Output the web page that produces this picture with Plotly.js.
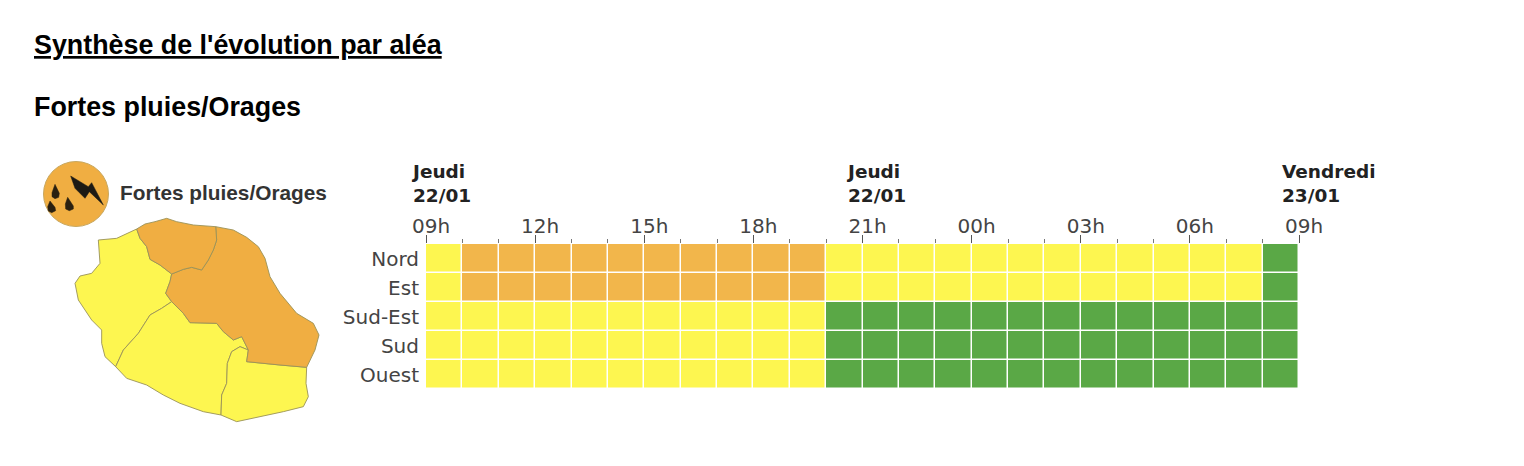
<!DOCTYPE html>
<html><head><meta charset="utf-8">
<script src="https://cdn.plot.ly/plotly-3.0.1.min.js"></script>
<style>html,body{margin:0;padding:0;background:#fff}</style></head>
<body><div id="chart" style="width:1524px;height:466px"></div>
<script>
// Heat-strip data
const zones = ["Nord","Est","Sud-Est","Sud","Ouest"];
const hourEdges = [9,10,11,12,13,14,15,16,17,18,19,20,21,22,23,24,25,26,27,28,29,30,31,32,33];
const tickHours = [9,12,15,18,21,24,27,30,33];
const tickLabels = ["09h","12h","15h","18h","21h","00h","03h","06h","09h"];
const dayHours = [9,21,33];
const dayLabels = ["Jeudi<br>22/01","Jeudi<br>22/01","Vendredi<br>23/01"];
// 0 = vert, 1 = jaune, 2 = orange
const nord   = [1,2,2,2,2,2,2,2,2,2,2,1,1,1,1,1,1,1,1,1,1,1,1,0];
const est    = [1,2,2,2,2,2,2,2,2,2,2,1,1,1,1,1,1,1,1,1,1,1,1,0];
const sudEst = [1,1,1,1,1,1,1,1,1,1,1,0,0,0,0,0,0,0,0,0,0,0,0,0];
const sud    = [1,1,1,1,1,1,1,1,1,1,1,0,0,0,0,0,0,0,0,0,0,0,0,0];
const ouest  = [1,1,1,1,1,1,1,1,1,1,1,0,0,0,0,0,0,0,0,0,0,0,0,0];

// Map outlines, in the map panel's own units
const mapNordX=[350,375,405,440,470,520,587,590,580,565,545,515,490,455,420,390,380,360,350];
const mapNordY=[237,222,215,205,215,225,230,270,300,330,360,352,358,372,345,328,290,265,237];
const mapEstX=[587,640,680,715,735,750,780,830,880,897,885,860,780,680,685,665,640,610,590,510,490,455,437,450,455,490,515,545,565,580,590,587];
const mapEstY=[230,240,262,290,325,380,430,490,520,555,600,652,645,635,600,560,570,545,520,518,490,455,430,395,372,358,352,360,330,300,270,230];
const mapOuestX=[350,360,380,390,420,455,450,437,455,425,390,355,310,287,255,245,245,215,175,165,180,215,240,235,290,320,350];
const mapOuestY=[237,265,290,328,345,372,395,430,455,475,495,550,600,650,620,580,540,510,450,400,378,370,340,270,265,250,237];
const mapSudX=[455,490,510,590,610,640,665,685,660,635,622,620,605,603,550,480,430,380,320,287,310,355,390,425,455];
const mapSudY=[455,490,518,520,545,570,560,600,590,605,640,700,735,795,785,760,735,705,685,650,600,550,495,475,455];
const mapSudEstX=[685,680,780,860,858,865,850,790,720,650,603,605,620,622,635,660,685];
const mapSudEstY=[600,635,645,652,700,740,770,785,800,815,795,735,700,640,605,590,600];
// Icon
const iconX=[168]; const iconY=[132];
const boltX=[152,205,215,250,208,195,165,152];
const boltY=[78,110,98,165,125,145,115,78];
const dropsX=[105,118,116,105,96,96,105,null,90,105,107,95,85,83,90,null,143,160,160,148,137,136,143];
const dropsY=[103,130,142,146,140,128,103,null,153,172,182,188,183,170,153,null,142,168,177,182,177,162,142];

const YELLOW="#FDF650", ORANGE="#F2B64B", GREEN="#5AA846", MAPORANGE="#F0AE42", EDGE="#9A9258";

function poly(x,y,fill){return {type:"scatter",mode:"lines",x:x,y:y,fill:"toself",fillcolor:fill,
  line:{color:EDGE,width:0.9},xaxis:"x2",yaxis:"y2",hoverinfo:"skip",showlegend:false};}

const traces=[
 {type:"heatmap",x:hourEdges,y:zones,z:[nord,est,sudEst,sud,ouest],zmin:0,zmax:2,
  colorscale:[[0,GREEN],[0.33,GREEN],[0.33,YELLOW],[0.66,YELLOW],[0.66,ORANGE],[1,ORANGE]],
  showscale:false,xgap:1.5,ygap:1.5,hoverinfo:"skip"},
 poly(mapOuestX,mapOuestY,YELLOW),
 poly(mapSudX,mapSudY,YELLOW),
 poly(mapSudEstX,mapSudEstY,YELLOW),
 poly(mapEstX,mapEstY,MAPORANGE),
 poly(mapNordX,mapNordY,MAPORANGE),
 {type:"scatter",mode:"markers",x:iconX,y:iconY,xaxis:"x2",yaxis:"y2",
  marker:{symbol:"circle",size:65,color:MAPORANGE,line:{color:"#C8A860",width:1}},hoverinfo:"skip",showlegend:false},
 {type:"scatter",mode:"lines",x:boltX,y:boltY,fill:"toself",fillcolor:"#1d1a14",line:{color:"#1d1a14",width:0.5},xaxis:"x2",yaxis:"y2",hoverinfo:"skip",showlegend:false},
 {type:"scatter",mode:"lines",x:dropsX,y:dropsY,fill:"toself",fillcolor:"#2a2010",line:{color:"#2a2010",width:0.5},xaxis:"x2",yaxis:"y2",hoverinfo:"skip",showlegend:false}
];

const W=1524,H=466;
const dayShifts=[-17,-19,-19];
const annotations=dayHours.map((h,i)=>({xref:"x",yref:"paper",x:h,y:1-159/H,xanchor:"left",yanchor:"top",align:"left",
   xshift:dayShifts[i],showarrow:false,text:"<b>"+dayLabels[i].replace("<br>","</b><br><b>")+"</b>",
   font:{family:"DejaVu Sans",size:18.5,color:"#222"}}));
annotations.push(
 {xref:"paper",yref:"paper",x:32/W,y:1-45/H,xanchor:"left",yanchor:"middle",showarrow:false,
  text:"<b><u>Synthèse de l'évolution par aléa</u></b>",font:{family:"Liberation Sans",size:26.85,color:"#000"}},
 {xref:"paper",yref:"paper",x:32/W,y:1-107/H,xanchor:"left",yanchor:"middle",showarrow:false,
  text:"<b>Fortes pluies/Orages</b>",font:{family:"Liberation Sans",size:26.85,color:"#000"}},
 {xref:"paper",yref:"paper",x:118/W,y:1-192/H,xanchor:"left",yanchor:"middle",showarrow:false,
  text:"<b>Fortes pluies/Orages</b>",font:{family:"Liberation Sans",size:20.8,color:"#333"}}
);

Plotly.newPlot("chart",traces,{
 width:W,height:H,margin:{l:0,r:0,t:0,b:0,pad:0},paper_bgcolor:"#fff",plot_bgcolor:"#fff",showlegend:false,
 xaxis:{domain:[426/W,1299/W],range:[9,33],side:"top",anchor:"y",tickmode:"array",tickvals:tickHours,ticktext:tickLabels,
   ticks:"outside",ticklen:8,tickwidth:1,tickcolor:"#555",showgrid:false,zeroline:false,showline:false,
   ticklabelstandoff:-6,ticklabelshift:5,
   tickfont:{family:"DejaVu Sans",size:20,color:"#444"},
   minor:{dtick:1,tick0:9,ticks:"outside",ticklen:4,tickcolor:"#777",tickwidth:1,showgrid:false}},
 yaxis:{domain:[1-389/H,1-244/H],autorange:"reversed",type:"category",anchor:"x",ticks:"",showgrid:false,zeroline:false,showline:false,
   ticklabelstandoff:6,tickfont:{family:"DejaVu Sans",size:20,color:"#444"}},
 xaxis2:{domain:[20/W,340/W],range:[0,960],visible:false,anchor:"y2",fixedrange:true},
 yaxis2:{domain:[1-430/H,1-150/H],range:[840,0],visible:false,anchor:"x2",fixedrange:true},
 annotations:annotations
},{displayModeBar:false,responsive:false});
</script></body></html>
